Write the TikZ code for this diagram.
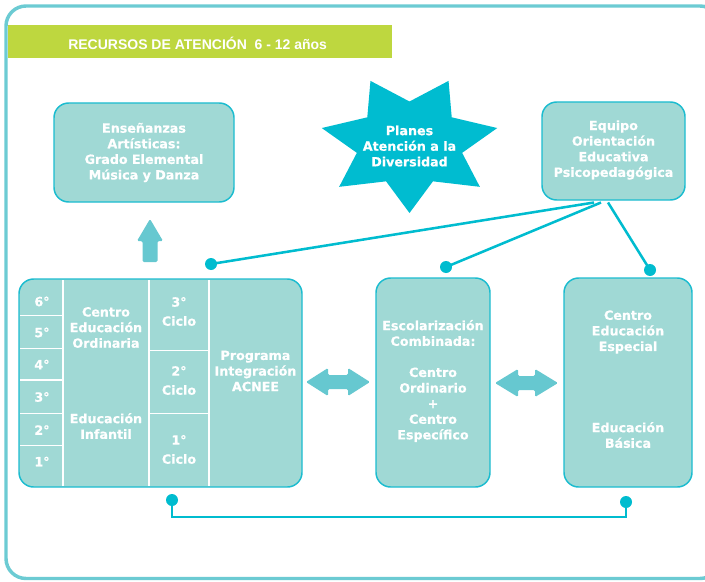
\documentclass[tikz,border=0pt]{standalone}
\usepackage{fontspec}
\setmainfont{DejaVu Sans}[BoldFeatures={FakeBold=0.6}]
\newfontfamily\titlefont{Liberation Sans}
\usetikzlibrary{fit,calc}
\definecolor{boxfill}{HTML}{A0D9D5}
\definecolor{boxline}{HTML}{1BBCCF}
\definecolor{arrowc}{HTML}{66C8D0}
\definecolor{starc}{HTML}{00BCD0}
\definecolor{framec}{HTML}{6CCBD3}
\definecolor{linec}{HTML}{00BCCF}
\definecolor{barc}{HTML}{BED73F}
\begin{document}
\begin{tikzpicture}[x=0.75pt,y=-0.75pt,
  box/.style={draw=boxline, fill=boxfill, line width=1.1pt, rounded corners=11pt, inner sep=0pt},
  txt/.style={text=white, align=center, font=\fontsize{9.5}{11.7}\selectfont\bfseries, inner sep=0pt},
  dot/.style={circle, fill=linec, minimum size=9pt, inner sep=0pt},
  conn/.style={draw=linec, line width=1.9pt},
  sep/.style={draw=white, line width=1.1pt},
  fatarrow/.style={fill=arrowc, rounded corners=1pt}]
\useasboundingbox (0,0) rectangle (705,581);
% frame
\draw[framec, line width=2.6pt, rounded corners=15pt] (6,6) rectangle (720,578.5);
% title bar
\fill[barc] (8,25) rectangle (392,58);
\node[anchor=base west, inner sep=0pt, text=white, font=\titlefont\fontsize{10.5}{12}\selectfont\bfseries] (title) at (68,49.3) {RECURSOS DE ATENCIÓN\ \ 6 - 12 años};

% boxes
\node[box, fit={(54,103)(234,202)}] (arte) {};
\node[txt] (arteT) at (arte.center) {Enseñanzas\\Artísticas:\\Grado Elemental\\Música y Danza};
\node[box, fit={(542,102)(685,200)}] (eq) {};
\node[txt] (eqT) at ($(eq.center)+(0,-1)$) {Equipo\\Orientación\\Educativa\\Psicopedagógica};
\node[box, fit={(19,279)(302,487)}] (L) {};
\node[box, fit={(376,278)(490,487)}] (M) {};
\node[box, fit={(564,278)(692,487)}] (R) {};

% star
\fill[starc] plot[samples at={0,...,13}, variable=\k]
  ({409.5+(isodd(\k)?54:90)*cos(90+\k*180/7)},{143.5+(isodd(\k)?42:69.5)*sin(90+\k*180/7)}) -- cycle;
\node[txt] (star) at (409.5,146) {Planes\\Atención a la\\Diversidad};

% left box separators
\draw[sep] (63,280) -- (63,486);
\draw[sep] (149,280) -- (149,486);
\draw[sep] (209,280) -- (209,486);
\foreach \yy in {315.7,348.3,380,413.3,445.7} \draw[sep] (20,\yy) -- (63,\yy);
\foreach \yy in {350.7,413.3} \draw[sep] (149,\yy) -- (209,\yy);
\node[txt] (g6) at (42,301.5) {6°};
\node[txt] (g5) at (42,332.5) {5°};
\node[txt] (g4) at (42,364.5) {4°};
\node[txt] (g3) at (42,397) {3°};
\node[txt] (g2) at (42,430) {2°};
\node[txt] (g1) at (42,461.5) {1°};
\node[txt] (ceo) at (106,327.5) {Centro\\Educación\\Ordinaria};
\node[txt] (inf) at (106,426) {Educación\\Infantil};
\node[txt] (c3) at (179,311.5) {3°\\[2.6pt]Ciclo};
\node[txt] (c2) at (179,380.5) {2°\\[2.6pt]Ciclo};
\node[txt] (c1) at (179,449.5) {1°\\[2.6pt]Ciclo};
\node[txt] (pia) at (255.5,371) {Programa\\Integración\\ACNEE};

\node[txt] (MT) at (433,381) {Escolarización\\Combinada:\\[11.7pt]Centro\\Ordinario\\+\\Centro\\Específico};
\node[txt] (RT1) at (628,332) {Centro\\Educación\\Especial};
\node[txt] (RT2) at (628,435) {Educación\\Básica};

% fat arrows
\fill[fatarrow] (150,219) -- (163,241) -- (157.5,241) -- (157.5,262) -- (142.5,262) -- (142.5,241) -- (137,241) -- cycle;
\fill[fatarrow] (306,382) -- (328,368) -- (328,375) -- (348,375) -- (348,368) -- (370,382) -- (348,396) -- (348,389) -- (328,389) -- (328,396) -- cycle;
\fill[fatarrow] (495,383) -- (518,369) -- (518,376) -- (535,376) -- (535,369) -- (558,383) -- (535,397) -- (535,390) -- (518,390) -- (518,397) -- cycle;

% connectors
\coordinate (e1) at (594,202.5);
\coordinate (e2) at (601,202.5);
\coordinate (e3) at (608,202.5);
\node[dot] (dL) at (211,264) {};
\node[dot] (dM) at (446,267) {};
\node[dot] (dR) at (650,270) {};
\draw[conn] (e1) -- (dL.center);
\draw[conn] (e2) -- (dM.center);
\draw[conn] (e3) -- (dR.center);
\node[dot] (bL) at (172,500) {};
\node[dot] (bR) at (626,502) {};
\draw[conn] (bL.center) -- ++(0,17) -| (bR.center);
\end{tikzpicture}
\end{document}
